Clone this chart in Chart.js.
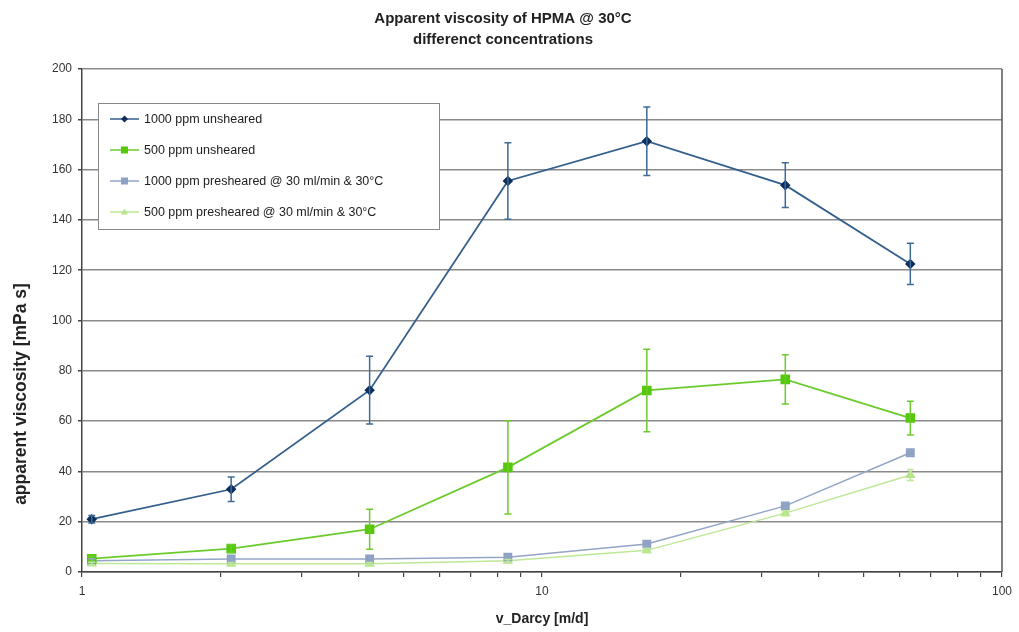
<!DOCTYPE html>
<html>
<head>
<meta charset="utf-8">
<script src="https://cdn.jsdelivr.net/npm/chart.js@4"></script>
<style>
  html, body { margin: 0; padding: 0; background: #fff; }
  #wrap { width: 1019px; height: 632px; }
</style>
</head>
<body>
<div id="wrap"><canvas id="viscChart" width="1019" height="632"></canvas></div>
<script>
// flow rates (Darcy velocity, m/d)
const vDarcy = [1.05, 2.11, 4.22, 8.43, 16.9, 33.8, 63.2];

const labels = [
    '1000 ppm unsheared',
    '500 ppm unsheared',
    '1000 ppm presheared @ 30 ml/min & 30°C',
    '500 ppm presheared @ 30 ml/min & 30°C'
];

const visc1000 = [21.0, 32.9, 72.3, 155.5, 171.3, 153.8, 122.5];
const err1000 = [1.5, 4.9, 13.5, 15.2, 13.6, 8.9, 8.2];

const visc500 = [5.3, 9.3, 17.0, 41.6, 72.2, 76.6, 61.2];
const err500 = [1.0, 1.5, 8.0, 18.5, 16.4, 9.8, 6.7];

const visc1000pre = [4.5, 5.2, 5.2, 5.9, 11.1, 26.3, 47.4];
const err1000pre = [0.8, 0.8, 0.8, 0.8, 0.8, 1.0, 1.0];

const visc500pre = [3.4, 3.3, 3.3, 4.5, 8.6, 23.4, 38.6];
const err500pre = [0.5, 0.5, 0.5, 0.5, 0.8, 1.0, 2.2];

const xTickValues = [1, 2, 3, 4, 5, 6, 7, 8, 9, 10, 20, 30, 40, 50, 60, 70, 80, 90, 100];
const xTickLabels = [1, 10, 100];

const yTitle = 'apparent viscosity [mPa s]';

const FONT = '"Liberation Sans", Arial, sans-serif';

function points(ys) {
    return vDarcy.map((x, i) => ({ x: x, y: ys[i] }));
}

// vertical error bars with small caps
const errorBars = {
    id: 'errorBars',
    afterDatasetsDraw(chart) {
        const { ctx, scales } = chart;
        chart.data.datasets.forEach(ds => {
            if (!ds.errors) return;
            ctx.save();
            ctx.strokeStyle = ds.errorColor || ds.borderColor;
            ctx.lineWidth = 1.5;
            ds.data.forEach((p, i) => {
                const e = ds.errors[i];
                const px = scales.x.getPixelForValue(p.x);
                const top = scales.y.getPixelForValue(p.y + e);
                const bot = scales.y.getPixelForValue(p.y - e);
                ctx.beginPath();
                ctx.moveTo(px, top); ctx.lineTo(px, bot);
                ctx.moveTo(px - 3.5, top); ctx.lineTo(px + 3.5, top);
                ctx.moveTo(px - 3.5, bot); ctx.lineTo(px + 3.5, bot);
                ctx.stroke();
            });
            ctx.restore();
        });
    }
};

// right border of plot, y title (sits low like the original) and boxed legend
const frameAndLegend = {
    id: 'frameAndLegend',
    afterDraw(chart) {
        const { ctx, chartArea } = chart;
        ctx.save();
        ctx.strokeStyle = '#555';
        ctx.lineWidth = 1.5;
        ctx.beginPath();
        ctx.moveTo(chartArea.right, chartArea.top);
        ctx.lineTo(chartArea.right, chartArea.bottom);
        ctx.stroke();

        ctx.save();
        ctx.translate(21, 394);
        ctx.rotate(-Math.PI / 2);
        ctx.font = 'bold 17.5px ' + FONT;
        ctx.fillStyle = '#222';
        ctx.textAlign = 'center';
        ctx.textBaseline = 'middle';
        ctx.fillText(yTitle, 0, 0);
        ctx.restore();

        const bx = 98, by = 103, bw = 341, bh = 126;
        ctx.fillStyle = '#fff';
        ctx.fillRect(bx, by, bw, bh);
        ctx.strokeStyle = '#888';
        ctx.lineWidth = 1;
        ctx.strokeRect(bx + 0.5, by + 0.5, bw, bh);

        ctx.font = '12.5px ' + FONT;
        ctx.textBaseline = 'middle';
        chart.data.datasets.forEach((ds, i) => {
            const ly = by + 16 + i * 31;
            ctx.strokeStyle = ds.borderColor;
            ctx.lineWidth = 1.5;
            ctx.beginPath();
            ctx.moveTo(110, ly); ctx.lineTo(139, ly);
            ctx.stroke();
            ctx.fillStyle = ds.pointBackgroundColor;
            const cx = 124.5;
            ctx.beginPath();
            if (ds.pointStyle === 'rectRot') {
                ctx.moveTo(cx, ly - 3.5); ctx.lineTo(cx + 3.5, ly);
                ctx.lineTo(cx, ly + 3.5); ctx.lineTo(cx - 3.5, ly);
            } else if (ds.pointStyle === 'triangle') {
                ctx.moveTo(cx, ly - 3.5); ctx.lineTo(cx + 3.5, ly + 2.5);
                ctx.lineTo(cx - 3.5, ly + 2.5);
            } else {
                ctx.rect(cx - 3.5, ly - 3.5, 7, 7);
            }
            ctx.closePath();
            ctx.fill();
            ctx.fillStyle = '#222';
            ctx.fillText(ds.label, 144, ly + 1);
        });
        ctx.restore();
    }
};

new Chart(document.getElementById('viscChart').getContext('2d'), {
    type: 'line',
    data: {
        datasets: [
            {
                label: labels[0], data: points(visc1000), errors: err1000,
                borderColor: '#345F8C', pointBackgroundColor: '#0E2F5C', pointBorderColor: '#0E2F5C',
                errorColor: '#3D6A97',
                pointStyle: 'rectRot', pointRadius: 4, borderWidth: 1.8
            },
            {
                label: labels[1], data: points(visc500), errors: err500,
                borderColor: '#6CCB2C', pointBackgroundColor: '#55C80A', pointBorderColor: '#55C80A',
                pointStyle: 'rect', pointRadius: 5.5, borderWidth: 1.8
            },
            {
                label: labels[2], data: points(visc1000pre), errors: err1000pre,
                borderColor: '#93A5C6', pointBackgroundColor: '#8CA1C4', pointBorderColor: '#8CA1C4',
                pointStyle: 'rect', pointRadius: 5.2, borderWidth: 1.5
            },
            {
                label: labels[3], data: points(visc500pre), errors: err500pre,
                borderColor: '#BDE896', pointBackgroundColor: '#B5E58A', pointBorderColor: '#B5E58A',
                pointStyle: 'triangle', pointRadius: 4.5, borderWidth: 1.5
            }
        ]
    },
    options: {
        responsive: false,
        animation: false,
        layout: { padding: { left: 0, right: 13, top: 0, bottom: 0 } },
        plugins: {
            legend: { display: false },
            tooltip: { enabled: false },
            title: {
                display: true,
                text: ['Apparent viscosity of HPMA @ 30°C', 'differenct concentrations'],
                color: '#222',
                font: { family: FONT, size: 15, weight: 'bold', lineHeight: 1.35 },
                padding: { top: 9, bottom: 19.5 }
            }
        },
        scales: {
            x: {
                type: 'logarithmic',
                min: 1, max: 100,
                afterBuildTicks(scale) {
                    scale.ticks = xTickValues.map(v => ({ value: v }));
                },
                afterFit(scale) { scale.height = 60; },
                grid: { drawOnChartArea: false, drawTicks: true, tickLength: 5, color: '#444', lineWidth: 1.2 },
                border: { color: '#444', width: 1.5 },
                ticks: {
                    autoSkip: false, maxRotation: 0,
                    color: '#333',
                    font: { family: FONT, size: 12 },
                    padding: 7,
                    callback: v => (xTickLabels.includes(v) ? String(v) : '')
                },
                title: {
                    display: true, text: 'v_Darcy [m/d]', color: '#222',
                    font: { family: FONT, size: 14, weight: 'bold' },
                    padding: { top: 12 }
                }
            },
            y: {
                min: 0, max: 200,
                afterFit(scale) { scale.width = 82; },
                ticks: {
                    stepSize: 20, color: '#333',
                    font: { family: FONT, size: 12 },
                    padding: 6
                },
                grid: { color: '#8A8A8A', lineWidth: 1.5, tickLength: 4, tickColor: '#444' },
                border: { color: '#444', width: 1.5 }
            }
        }
    },
    plugins: [errorBars, frameAndLegend]
});
</script>
</body>
</html>
